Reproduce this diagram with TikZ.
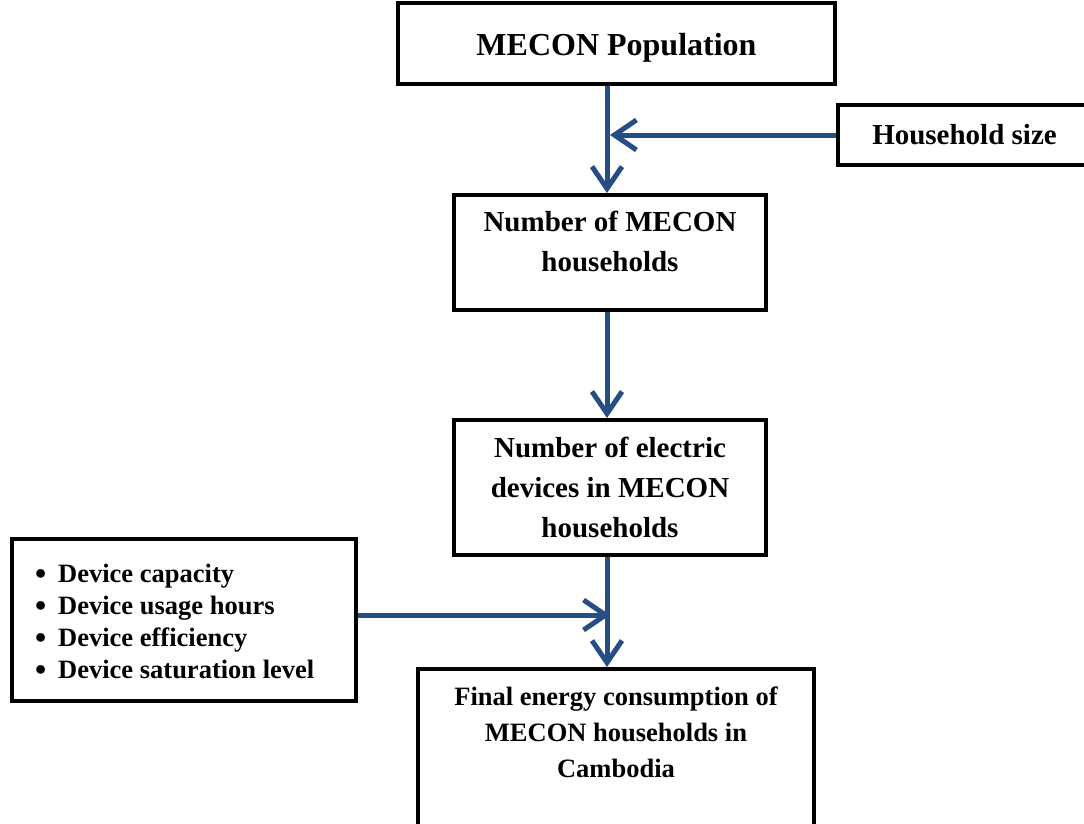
\documentclass[tikz,border=0pt]{standalone}
\usepackage{fontspec}
\setmainfont{Liberation Serif}
\usetikzlibrary{arrows.meta}
\definecolor{flowblue}{RGB}{38,78,132}
\tikzstyle{block}=[rectangle,draw=black,line width=4pt,align=center,inner sep=0pt,font=\bfseries\fontsize{29}{40}\selectfont]
\tikzstyle{small}=[font=\bfseries\fontsize{26.5}{36}\selectfont]
\tikzstyle{flow}=[draw=flowblue,line width=5pt,-{Straight Barb[length=22pt,width=30pt]}]
\newcommand{\bul}{\raisebox{-2pt}{\fontsize{32}{32}\selectfont\textbullet}\hspace{12pt}}

\begin{document}
\begin{tikzpicture}[x=1pt,y=-1pt]
    \useasboundingbox (0,0) rectangle (1084,823);
    \clip (0,0) rectangle (1084,823);
    \node[block,minimum width=437pt,minimum height=81pt,font=\bfseries\fontsize{32}{38}\selectfont] at (616.5,43.5) (pop) {\rule{0pt}{30pt}MECON Population};
    \node[block,minimum width=253pt,minimum height=60pt] at (964.5,135) (hh) {Household size};
    \node[block,minimum width=312pt,minimum height=115pt] at (610,252.5) (nmh) {Number of MECON\\households\rule[-22pt]{0pt}{0pt}};
    \node[block,minimum width=312pt,minimum height=135pt] at (610,487.5) (ned) {Number of electric\\devices in MECON\\households};
    \node[block,small,anchor=north,minimum width=396pt,inner ysep=18pt] at (616,667) (fec) {Final energy consumption of\\MECON households in\\Cambodia\rule[-33pt]{0pt}{33pt}};
    \node[block,align=left,text width=298pt,inner xsep=23pt,minimum height=162pt,font=\bfseries\fontsize{26.5}{32}\selectfont] at (184,620) (dev) {\spaceskip=0pt\xspaceskip=0pt\rule{0pt}{22pt}\bul Device capacity\\\bul Device usage hours\\\bul Device efficiency\\\bul Device saturation level};
    \coordinate (spine) at (607,0);
    \coordinate (join1) at (610,135);
    \coordinate (join2) at (610,615);
    \draw[flow] (pop.south -| spine) -- (nmh.north -| spine);
    \draw[flow] (hh.west) -- (join1);
    \draw[flow] (nmh.south -| spine) -- (ned.north -| spine);
    \draw[flow] (ned.south -| spine) -- (fec.north -| spine);
    \draw[flow] (dev.east |- join2) -- (join2);
  \end{tikzpicture}
\end{document}
